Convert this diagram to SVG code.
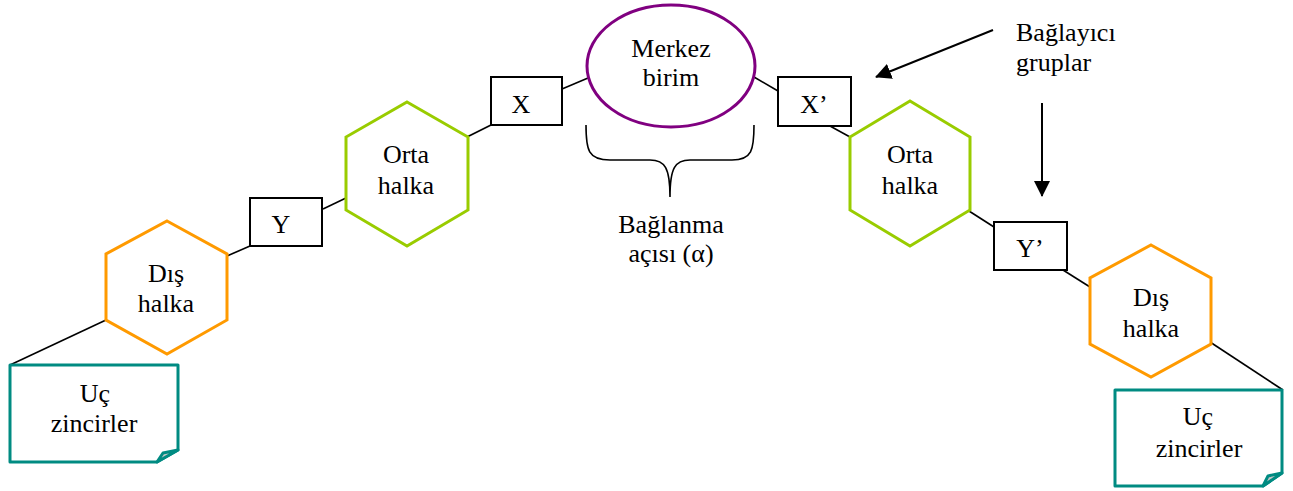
<svg xmlns="http://www.w3.org/2000/svg" width="1293" height="491" viewBox="0 0 1293 491">
<style>
text{font-family:"Liberation Serif","Times New Roman",serif;font-size:26px;fill:#000;text-anchor:middle}
.outer{fill:#fff;stroke:#FF9A00;stroke-width:3}
.mid{fill:#fff;stroke:#99CC00;stroke-width:3}
.box{fill:#fff;stroke:#000;stroke-width:2}
.note{fill:#fff;stroke:#008B82;stroke-width:3;stroke-linejoin:round}
.fold{fill:#c8c8c8;stroke:#008B82;stroke-width:3;stroke-linejoin:round}
.ln{stroke:#000;stroke-width:1.6;fill:none}
.arr{stroke:#000;stroke-width:2;fill:none}
</style>
<defs>
<marker id="ah" markerUnits="userSpaceOnUse" markerWidth="16" markerHeight="16" viewBox="0 0 16 16" refX="15" refY="8" orient="auto">
<path d="M0,0 L16,8 L0,16 Z" fill="#000"/>
</marker>
</defs>
<g id="connectors">
<line class="ln" x1="106" y1="320" x2="10" y2="365"/>
<line class="ln" x1="227" y1="256" x2="250" y2="246"/>
<line class="ln" x1="323" y1="209" x2="346" y2="198"/>
<line class="ln" x1="467" y1="137" x2="491" y2="125"/>
<line class="ln" x1="562" y1="89" x2="588" y2="78"/>
<line class="ln" x1="754" y1="77" x2="778" y2="91"/>
<line class="ln" x1="830" y1="126" x2="850" y2="137"/>
<line class="ln" x1="969" y1="211" x2="994" y2="227"/>
<line class="ln" x1="1063" y1="270" x2="1090" y2="287"/>
<line class="ln" x1="1210" y1="342" x2="1283" y2="390"/>
<line class="arr" x1="993" y1="30" x2="876" y2="77" marker-end="url(#ah)"/>
<line class="arr" x1="1042" y1="103" x2="1042" y2="196" marker-end="url(#ah)"/>
<path class="ln" d="M586,125 C586,150 588,160 610,160 L650,160 C665,160 670,168 670,197 C670,168 675,160 690,160 L732,160 C752,160 754,150 754,125"/>
</g>
<g id="merkez">
<ellipse cx="671" cy="66" rx="84" ry="61" fill="#fff" stroke="#800080" stroke-width="3"/>
<text x="671" y="57">Merkez</text>
<text x="671" y="86">birim</text>
</g>
<g id="x-box">
<rect class="box" x="491" y="77" width="71" height="48"/>
<text x="521" y="113">X</text>
</g>
<g id="x2-box">
<rect class="box" x="778" y="77" width="73" height="49"/>
<text x="814" y="113">X’</text>
</g>
<g id="y-box">
<rect class="box" x="250" y="198" width="72" height="48"/>
<text x="281" y="233">Y</text>
</g>
<g id="y2-box">
<rect class="box" x="994" y="222" width="73" height="48"/>
<text x="1030" y="257">Y’</text>
</g>
<g id="orta-left">
<polygon class="mid" points="407,102 468,137 468,210 407,246 346,210 346,137"/>
<text x="406" y="163">Orta</text>
<text x="406" y="194">halka</text>
</g>
<g id="orta-right">
<polygon class="mid" points="910,101 970,137 970,210 910,246 850,210 850,137"/>
<text x="910" y="163">Orta</text>
<text x="910" y="194">halka</text>
</g>
<g id="dis-left">
<polygon class="outer" points="167,221 227,254 227,320 167,354 106,320 106,254"/>
<text x="166" y="282">Dış</text>
<text x="166" y="312">halka</text>
</g>
<g id="dis-right">
<polygon class="outer" points="1151,245 1211,278 1211,344 1151,377 1090,344 1090,278"/>
<text x="1151" y="306">Dış</text>
<text x="1151" y="337">halka</text>
</g>
<g id="uc-left">
<path class="note" d="M10,365 L178,365 L178,450 L157,462 L10,462 Z"/>
<path class="fold" d="M157,462 L163,453 L178,450 Z"/>
<text x="95" y="402">Uç</text>
<text x="94" y="432">zincirler</text>
</g>
<g id="uc-right">
<path class="note" d="M1115,390 L1282,390 L1282,473 L1263,486 L1115,486 Z"/>
<path class="fold" d="M1263,486 L1268,476 L1282,473 Z"/>
<text x="1198" y="425">Uç</text>
<text x="1199" y="457">zincirler</text>
</g>
<g id="baglanma">
<text x="671" y="233">Bağlanma</text>
<text x="671" y="262">açısı (α)</text>
</g>
<g id="baglayici">
<text x="1016" y="41" style="text-anchor:start">Bağlayıcı</text>
<text x="1016" y="71" style="text-anchor:start">gruplar</text>
</g>
</svg>
